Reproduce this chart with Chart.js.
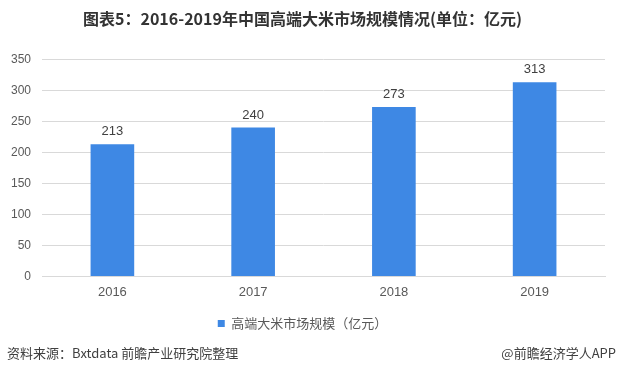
<!DOCTYPE html>
<html>
<head>
<meta charset="utf-8">
<script src="https://cdn.jsdelivr.net/npm/chart.js@4"></script>
<style>
  html, body { margin: 0; padding: 0; background: #fff; }
  #wrap { position: relative; width: 619px; height: 375px; }
  #chart { position: absolute; left: 0; top: 0; }
  .foot { position: absolute; top: 343px; font: 13px "Noto Sans CJK SC", sans-serif; color: #404040; white-space: nowrap; }
</style>
</head>
<body>
<div id="wrap">
  <canvas id="chart" width="619" height="375"></canvas>
  <div class="foot" style="left:7px;">资料来源：Bxtdata 前瞻产业研究院整理</div>
  <div class="foot" style="right:3px;">@前瞻经济学人APP</div>
</div>
<script>
// chart data
var years = ['2016', '2017', '2018', '2019'];
var marketSize = [213, 240, 273, 313];
var seriesName = '高端大米市场规模（亿元）';
var chartTitle = '图表5：2016-2019年中国高端大米市场规模情况(单位：亿元)';

var FONT = '"Liberation Sans", "Noto Sans CJK SC", sans-serif';

// draw value labels over each bar
var barLabels = {
    id: 'barLabels',
    afterDatasetsDraw: function (chart) {
        var ctx = chart.ctx;
        var meta = chart.getDatasetMeta(0);
        ctx.save();
        ctx.font = '13px ' + FONT;
        ctx.fillStyle = '#404040';
        ctx.textAlign = 'center';
        ctx.textBaseline = 'bottom';
        meta.data.forEach(function (bar, i) {
            ctx.fillText(marketSize[i], bar.x, bar.y - 6);
        });
        ctx.restore();
    }
};

new Chart(document.getElementById('chart').getContext('2d'), {
    type: 'bar',
    data: {
        labels: years,
        datasets: [{
            label: seriesName,
            data: marketSize,
            backgroundColor: '#3e88e4',
            borderWidth: 0,
            categoryPercentage: 1,
            barPercentage: 0.31
        }]
    },
    options: {
        responsive: false,
        animation: false,
        layout: { padding: { left: 0, right: 14, top: 0, bottom: 35 } },
        scales: {
            x: {
                grid: { display: false },
                border: { display: true, color: '#d9d9d9' },
                ticks: { color: '#595959', font: { size: 13, family: FONT }, padding: 0 }
            },
            y: {
                min: 0,
                max: 350,
                ticks: { stepSize: 50, color: '#595959', font: { size: 12, family: FONT }, padding: 11 },
                grid: { color: '#d9d9d9', drawTicks: false },
                border: { display: false }
            }
        },
        plugins: {
            title: {
                display: true,
                text: chartTitle,
                color: '#333',
                font: { size: 16, weight: 'bold', family: '"Noto Sans CJK SC", sans-serif' },
                padding: { top: 9, bottom: 31 }
            },
            legend: {
                position: 'bottom',
                labels: {
                    color: '#595959',
                    font: { size: 13, family: '"Noto Sans CJK SC", sans-serif' },
                    boxWidth: 7,
                    boxHeight: 7,
                    padding: 17
                }
            },
            tooltip: { enabled: false }
        }
    },
    plugins: [barLabels]
});
</script>
</body>
</html>
